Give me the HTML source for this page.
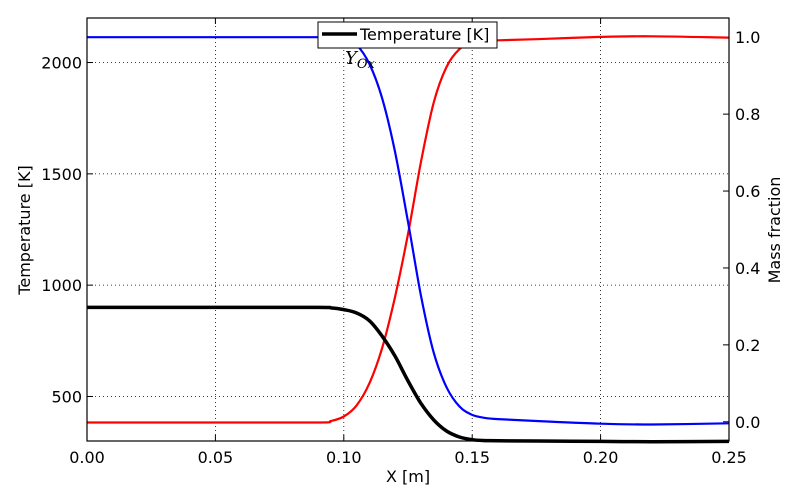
<!DOCTYPE html>
<html><head><meta charset="utf-8"><style>
body{margin:0;background:#fff;}
svg{display:block;font-family:"DejaVu Sans","Liberation Sans",sans-serif;}
</style></head><body>
<svg id="chart" width="800" height="500" viewBox="0 0 800 500" xmlns="http://www.w3.org/2000/svg"></svg>
<script>
const xs =      [0,   0.05,0.09,0.095,0.1, 0.105,0.11,0.115,0.12,0.125,0.13,0.135,0.14,0.145,0.15,0.155,0.16,0.175,0.2, 0.22,0.25];
const tempRed = [383, 383, 383, 390, 410, 460, 560, 720, 950, 1230,1550,1820,1980,2060,2090,2098,2100,2105,2115,2118,2112];
const yOx =     [1.0, 1.0, 1.0, 1.0, 0.998,0.98,0.93,0.84,0.70,0.52,0.33,0.18,0.09,0.04,0.018,0.01,0.007,0.002,-0.005,-0.007,-0.004];
const tempBlack=[900, 900, 900, 898, 890, 875, 840, 770, 680, 570, 470, 395, 345, 318, 306, 302, 301, 300, 298, 297, 298];
const xTicks=[0,0.05,0.1,0.15,0.2,0.25];
const xTickLabels=["0.00","0.05","0.10","0.15","0.20","0.25"];
const yLTicks=[500,1000,1500,2000];
const yRTicks=[0,0.2,0.4,0.6,0.8,1.0];
const yRTickLabels=["0.0","0.2","0.4","0.6","0.8","1.0"];

const L=87,R=729,T=18,B=441;
const X=v=>L+(v-0)/0.25*(R-L);
const YL=v=>B-(v-300)/1900*(B-T);
const YR=v=>B-(v+0.05)/1.1*(B-T);
const svg=document.getElementById('chart');
const NS='http://www.w3.org/2000/svg';
function mk(tag,attrs,parent){const e=document.createElementNS(NS,tag);for(const k in attrs)e.setAttribute(k,attrs[k]);(parent||svg).appendChild(e);return e;}

xTicks.forEach((t,i)=>{
  if(i>0&&i<xTicks.length-1){const g=mk('line',{x1:X(t),x2:X(t),y1:T,y2:B,stroke:'#000','stroke-width':0.8,'stroke-dasharray':'1,3'});
  
  }
  const tk=mk('line',{x1:X(t),x2:X(t),y1:B,y2:B-6,stroke:'#000'});
  
  
  const tk2=mk('line',{x1:X(t),x2:X(t),y1:T,y2:T+6,stroke:'#000'});
  
  
  const lb=mk('text',{x:X(t),y:B+22,'text-anchor':'middle','font-size':16});
  lb.textContent=xTickLabels[i];
  
  
});
yLTicks.forEach(t=>{
  const g=mk('line',{x1:L,x2:R,y1:YL(t),y2:YL(t),stroke:'#000','stroke-width':0.8,'stroke-dasharray':'1,3'});
  
  
  const tk=mk('line',{x1:L,x2:L+6,y1:YL(t),y2:YL(t),stroke:'#000'});
  
  
  const lb=mk('text',{x:L-5,y:YL(t)+6,'text-anchor':'end','font-size':16});
  lb.textContent=String(t);
  
  
});
yRTicks.forEach((t,i)=>{
  const tk=mk('line',{x1:R-6,x2:R,y1:YR(t),y2:YR(t),stroke:'#000'});
  
  
  const lb=mk('text',{x:R+6,y:YR(t)+6,'text-anchor':'start','font-size':16});
  lb.textContent=yRTickLabels[i];
  
  
});

function line(vals,fy,color,w,name){
  const P=vals.map((v,i)=>[X(xs[i]),fy(v)]);
  let d='M'+P[0][0].toFixed(1)+','+P[0][1].toFixed(1);
  for(let i=0;i<P.length-1;i++){
    const p0=P[Math.max(0,i-1)],p1=P[i],p2=P[i+1],p3=P[Math.min(P.length-1,i+2)];
    const c1=[p1[0]+(p2[0]-p0[0])/6,p1[1]+(p2[1]-p0[1])/6];
    const c2=[p2[0]-(p3[0]-p1[0])/6,p2[1]-(p3[1]-p1[1])/6];
    d+=' C'+c1.map(n=>n.toFixed(1)).join(',')+' '+c2.map(n=>n.toFixed(1)).join(',')+' '+p2[0].toFixed(1)+','+p2[1].toFixed(1);
  }
  const p=mk('path',{d:d,fill:'none',stroke:color,'stroke-width':w,'stroke-linejoin':'round'});
  
  
}
line(tempRed,YL,'#f00',2.2,'temperature-red-line');
line(yOx,YR,'#00f',2.2,'oxidizer-mass-fraction-line');
line(tempBlack,YL,'#000',3.5,'temperature-black-line');

const fr=mk('rect',{x:L,y:T,width:R-L,height:B-T,fill:'none',stroke:'#000','stroke-width':1.2});


</script>
<svg style="position:absolute;left:0;top:0" width="800" height="500">
  <g>
    <rect x="318" y="22" width="179" height="26" fill="#fff" stroke="#000" stroke-width="1"/>
    <line x1="322" y1="34" x2="357" y2="34" stroke="#000" stroke-width="3.5"/>
    <text x="360" y="40" font-size="16" font-family="DejaVu Sans, sans-serif">Temperature [K]</text>
  </g>
  <text x="345" y="64" font-size="18" font-style="italic" font-family="DejaVu Serif, Liberation Serif, serif">Y<tspan font-size="13" dy="4">Ox</tspan></text>
  <text x="408" y="482" text-anchor="middle" font-size="16" font-family="DejaVu Sans, sans-serif">X [m]</text>
  <text transform="translate(30,230) rotate(-90)" text-anchor="middle" font-size="16" font-family="DejaVu Sans, sans-serif">Temperature [K]</text>
  <text transform="translate(780,230) rotate(-90)" text-anchor="middle" font-size="16" font-family="DejaVu Sans, sans-serif">Mass fraction</text>
</svg>
</body></html>
